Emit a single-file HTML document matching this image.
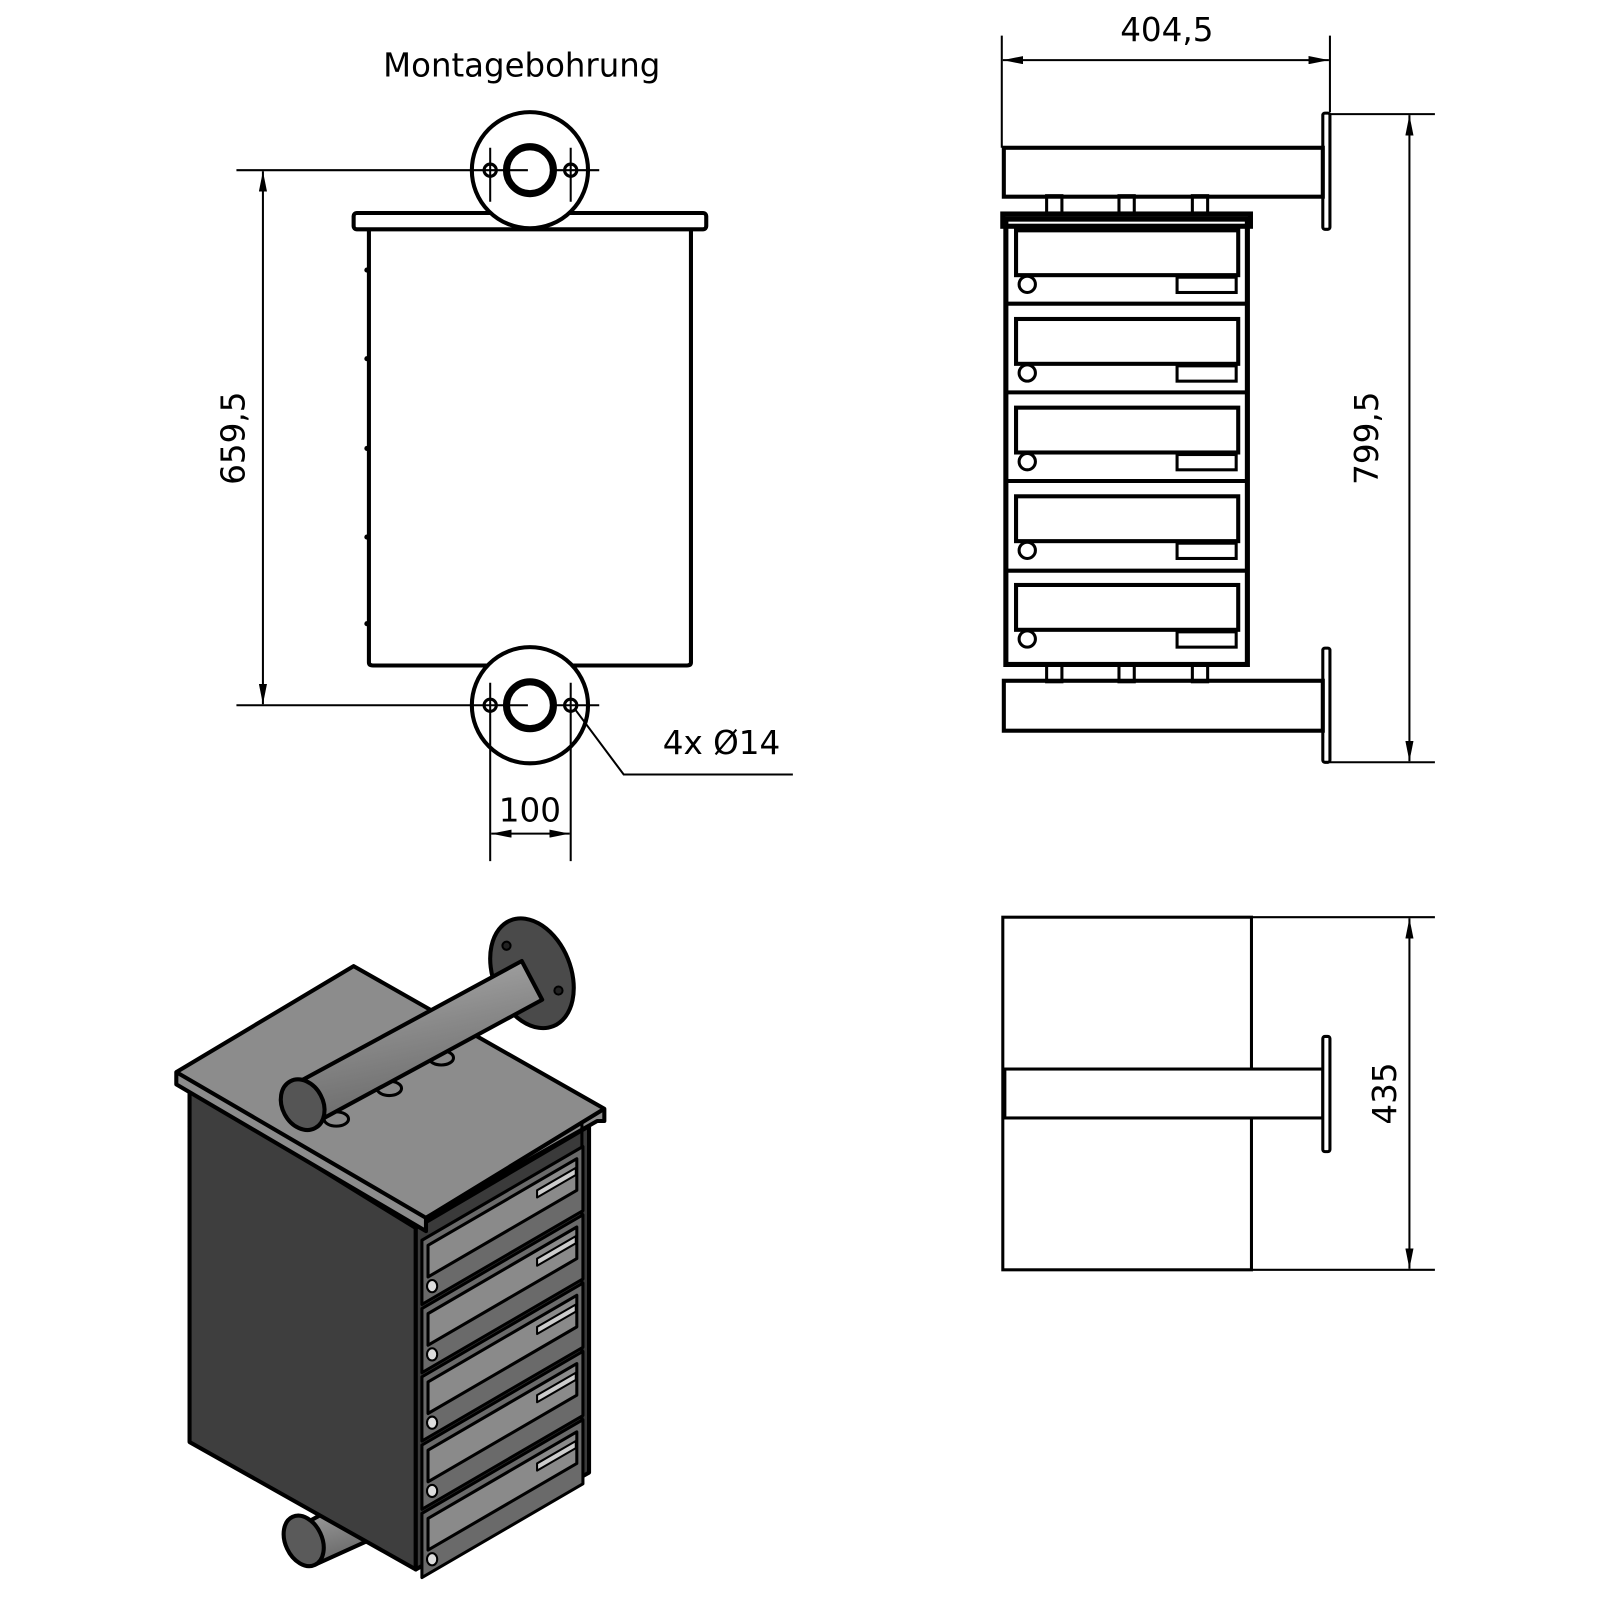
<!DOCTYPE html>
<html><head><meta charset="utf-8"><style>
html,body{margin:0;padding:0;background:#fff;}
svg{display:block;}
text{font-family:"DejaVu Sans","Liberation Sans",sans-serif;fill:#000;}
</style></head><body>
<svg width="1600" height="1600" viewBox="0 0 1570 1570" xmlns="http://www.w3.org/2000/svg">
<defs>
<marker id="ar" viewBox="0 0 20 8" refX="20" refY="4" markerWidth="20" markerHeight="8" orient="auto-start-reverse" markerUnits="userSpaceOnUse"><path d="M0,0 L20,4 L0,8 z" fill="#000"/></marker>
<linearGradient id="pipe" x1="0" y1="0" x2="0.3" y2="1"><stop offset="0" stop-color="#b0b0b0"/><stop offset="0.5" stop-color="#8a8a8a"/><stop offset="1" stop-color="#6a6a6a"/></linearGradient>
</defs>

<text x="512" y="75" font-size="32" text-anchor="middle" textLength="272" lengthAdjust="spacingAndGlyphs">Montagebohrung</text>
<g fill="none" stroke="#000">
<rect x="347" y="209" width="346" height="16" rx="3" stroke-width="4" fill="#fff"/>
<path d="M362,225 V650 Q362,653 366,653 H674 Q678,653 678,650 V225" stroke-width="4"/>
<circle cx="520" cy="167" r="57" stroke-width="4" fill="#fff"/>
<circle cx="520" cy="167" r="23" stroke-width="7"/>
<circle cx="481" cy="167" r="6" stroke-width="3"/>
<circle cx="560" cy="167" r="6" stroke-width="3"/>
<path d="M232,167 H518 M545,167 H588 M481,145 V198 M560,145 V198" stroke-width="2"/>
<circle cx="520" cy="692" r="57" stroke-width="4" fill="#fff"/>
<circle cx="520" cy="692" r="23" stroke-width="7"/>
<circle cx="481" cy="692" r="6" stroke-width="3"/>
<circle cx="560" cy="692" r="6" stroke-width="3"/>
<path d="M232,692 H518 M545,692 H588 M481,670 V845 M560,670 V845" stroke-width="2"/>
<line x1="258" y1="168" x2="258" y2="691" stroke-width="2" marker-start="url(#ar)" marker-end="url(#ar)"/>
<line x1="482" y1="818" x2="559" y2="818" stroke-width="2" marker-start="url(#ar)" marker-end="url(#ar)"/>
<path d="M565,697 L612,760 H778" stroke-width="2"/>
</g>
<g fill="#000"><circle cx="360" cy="265" r="2.5"/><circle cx="360" cy="352" r="2.5"/><circle cx="360" cy="440" r="2.5"/><circle cx="360" cy="527" r="2.5"/><circle cx="360" cy="612" r="2.5"/></g>
<text x="240" y="430" font-size="32" text-anchor="middle" transform="rotate(-90 240 430)">659,5</text>
<text x="520" y="806" font-size="32" text-anchor="middle">100</text>
<text x="708" y="740" font-size="32" text-anchor="middle">4x Ø14</text>

<g fill="none" stroke="#000">
<path d="M983,35 V145 M1305,35 V110" stroke-width="2"/>
<line x1="984" y1="59" x2="1304" y2="59" stroke-width="2" marker-start="url(#ar)" marker-end="url(#ar)"/>
<path d="M1305,112 H1408 M1305,748 H1408" stroke-width="2"/>
<line x1="1383" y1="113" x2="1383" y2="747" stroke-width="2" marker-start="url(#ar)" marker-end="url(#ar)"/>
<rect x="985" y="145" width="313" height="48" stroke-width="4"/>
<rect x="1298" y="111" width="7" height="114" rx="2" stroke-width="3"/>
<rect x="985" y="668" width="313" height="49" stroke-width="4"/>
<rect x="1298" y="636" width="7" height="112" rx="2" stroke-width="3"/>
<rect x="1027" y="192" width="15" height="17" stroke-width="3"/>
<rect x="1098" y="192" width="15" height="17" stroke-width="3"/>
<rect x="1170" y="192" width="15" height="17" stroke-width="3"/>
<rect x="1027" y="652" width="15" height="17" stroke-width="3"/>
<rect x="1098" y="652" width="15" height="17" stroke-width="3"/>
<rect x="1170" y="652" width="15" height="17" stroke-width="3"/>
<rect x="984" y="210" width="243" height="12" stroke-width="5" fill="#fff"/>
<rect x="987" y="215" width="237" height="437" stroke-width="5"/>
</g>
<g fill="none" stroke="#000" stroke-width="4">
<path d="M987,298 H1224 M987,385 H1224 M987,472 H1224 M987,560 H1224"/>
<g id="dr"><rect x="997" y="226" width="218" height="44" stroke-width="4"/><circle cx="1008" cy="279" r="8" stroke-width="3"/><rect x="1155" y="272" width="58" height="15" stroke-width="3"/></g>
<use href="#dr" y="87"/><use href="#dr" y="174"/><use href="#dr" y="261"/><use href="#dr" y="348"/>
</g>
<text x="1352" y="430" font-size="32" text-anchor="middle" transform="rotate(-90 1352 430)">799,5</text>
<text x="1145" y="40" font-size="32" text-anchor="middle">404,5</text>

<g fill="none" stroke="#000">
<rect x="984" y="900" width="244" height="346" stroke-width="3"/>
<path d="M1228,900 H1408 M1228,1246 H1408" stroke-width="2"/>
<line x1="1383" y1="901" x2="1383" y2="1245" stroke-width="2" marker-start="url(#ar)" marker-end="url(#ar)"/>
<rect x="986" y="1049" width="312" height="48" stroke-width="3" fill="#fff"/>
<rect x="1298" y="1017" width="7" height="113" rx="2" stroke-width="3" fill="#fff"/>
</g>
<text x="1370" y="1073" font-size="32" text-anchor="middle" transform="rotate(-90 1370 1073)">435</text>

<g stroke="#000" stroke-width="4" stroke-linejoin="round">
<path d="M290,1500 L345,1470 L365,1510 L310,1535 z" fill="url(#pipe)"/>
<ellipse cx="298" cy="1512" rx="18" ry="26" transform="rotate(-25 298 1512)" fill="#5a5a5a"/>
<path d="M186,1068 V1415 L408,1540 V1205 z" fill="#3e3e3e"/>
<path d="M408,1205 L578,1105 V1445 L408,1540 z" fill="#3a3a3a"/>
<path d="M173,1052 L347,948 L593,1088 V1100 L586,1100 L418,1195 V1208 L173,1064 z" fill="#8c8c8c"/>
<path d="M173,1052 L418,1195 L593,1088" fill="none"/>
<path d="M571,1100 V1445" stroke-width="3" fill="none"/>
</g>
<g stroke="#000" stroke-width="3" stroke-linejoin="round">
<g id="idr">
<path d="M414,1217 L572,1125 V1188 L414,1280 z" fill="#6a6a6a"/>
<path d="M420,1222 L566,1137 V1168 L420,1253 z" fill="#8a8a8a"/>
<path d="M527,1168 L565,1146 V1153 L527,1175 z" fill="#ccc" stroke-width="2"/>
<ellipse cx="424" cy="1262" rx="5" ry="6" fill="#ddd" stroke-width="2"/>
</g>
<use href="#idr" y="67"/><use href="#idr" y="134"/><use href="#idr" y="201"/><use href="#idr" y="268"/>
</g>
<g stroke="#000" stroke-width="4" stroke-linejoin="round">
<ellipse cx="522" cy="955" rx="38" ry="56" transform="rotate(-22 522 955)" fill="#4a4a4a"/>
<circle cx="497" cy="928" r="4" fill="#222" stroke-width="2"/>
<circle cx="548" cy="972" r="4" fill="#222" stroke-width="2"/>
<ellipse cx="330" cy="1098" rx="12" ry="7" fill="#8a8a8a" stroke-width="3"/>
<ellipse cx="382" cy="1068" rx="12" ry="7" fill="#8a8a8a" stroke-width="3"/>
<ellipse cx="433" cy="1038" rx="12" ry="7" fill="#8a8a8a" stroke-width="3"/>
<path d="M287,1065 L512,943 L532,981 L307,1103 z" fill="url(#pipe)"/>
<ellipse cx="297" cy="1084" rx="20" ry="26" transform="rotate(-28 297 1084)" fill="#555"/>
</g>
</svg>
</body></html>
